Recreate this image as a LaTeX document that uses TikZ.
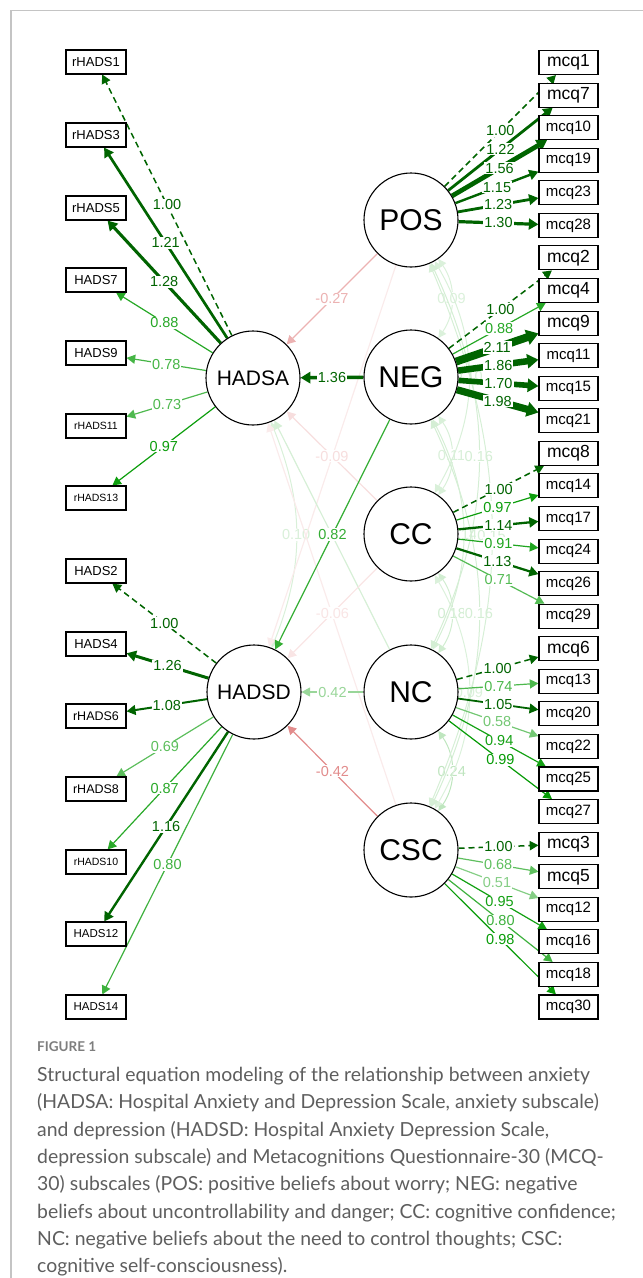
\documentclass[tikz,border=0pt]{standalone}
\usepackage{fontspec}
\setmainfont{Liberation Sans}
\newfontfamily\capfont{Lato}
\usetikzlibrary{arrows.meta,positioning}
\definecolor{semdk}{HTML}{006400}
\definecolor{semgr}{HTML}{009900}
\definecolor{semrd}{HTML}{BF0000}
\definecolor{capgray}{HTML}{5E5E5E}
\definecolor{framegray}{HTML}{C4C4C4}
\pgfdeclarelayer{bg}
\pgfsetlayers{bg,main}

\begin{document}
\begin{tikzpicture}[x=1pt, y=-1pt,
  obs/.style={rectangle, draw=black, line width=1.1pt, fill=white,
              minimum width=60pt, minimum height=24pt, inner sep=0pt,
              font=\fontsize{#1}{#1}\selectfont},
  obs/.default=13,
  item/.style={obs=#1, minimum width=59pt},
  item/.default=17.5,
  lat/.style={circle, draw=black, line width=1.1pt, fill=white,
              minimum size=94pt, inner sep=0pt, font=\fontsize{#1}{#1}\selectfont},
  lat/.default=30,
  ld/.style 2 args={line width=#1, color=#2, -{Triangle[length=8pt 0.5, width=8pt 0.9]}},
  cv/.style={line width=1pt, color=semgr!#1,
             {Triangle[length=8pt, width=8pt]}-{Triangle[length=8pt, width=8pt]}},
  lab/.style={fill=white, inner sep=1pt, font=\fontsize{14.5}{14.5}\selectfont},
  fix/.style={dash pattern=on 6pt off 4pt}
]
  \useasboundingbox (0,0) rectangle (643,1278);
  \draw[framegray, line width=1.2pt] (11,1278) -- (11,10.5) -- (643,10.5);

  % latent variables
  \node[lat=21] (hA)  at (253,378) {HADSA};
  \node[lat=21] (hD)  at (254,692) {HADSD};
  \node[lat] (pos) at (411,220) {POS};
  \node[lat] (neg) at (411,377) {NEG};
  \node[lat] (cc)  at (411,534) {CC};
  \node[lat] (nc)  at (411,692) {NC};
  \node[lat] (csc) at (411,850) {CSC};

  % HADS items
  \node[obs] (rh1) at (96,62) {rHADS1};
  \node[obs] (rh3) at (96,135) {rHADS3};
  \node[obs] (rh5) at (96,208) {rHADS5};
  \node[obs] (h7) at (96,280) {HADS7};
  \node[obs] (h9) at (96,353) {HADS9};
  \node[obs=10.5] (rh11) at (96,426) {rHADS11};
  \node[obs=10.5] (rh13) at (96,498) {rHADS13};
  \node[obs] (h2) at (96,571) {HADS2};
  \node[obs] (h4) at (96,644) {HADS4};
  \node[obs=12.5] (rh6) at (96,716) {rHADS6};
  \node[obs=12.5] (rh8) at (96,789) {rHADS8};
  \node[obs=10.5] (rh10) at (96,862) {rHADS10};
  \node[obs=11.5] (h12) at (96,934) {HADS12};
  \node[obs=11.5] (h14) at (96,1007) {HADS14};

  % MCQ items
  \node[item] (m1) at (568.5,62.5) {mcq1};
  \node[item] (m7) at (568.5,95.1) {mcq7};
  \node[item=15] (m10) at (568.5,127.6) {mcq10};
  \node[item=15] (m19) at (568.5,160.2) {mcq19};
  \node[item=15] (m23) at (568.5,192.8) {mcq23};
  \node[item=15] (m28) at (568.5,225.4) {mcq28};
  \node[item] (m2) at (568.5,257.9) {mcq2};
  \node[item] (m4) at (568.5,290.5) {mcq4};
  \node[item] (m9) at (568.5,323.1) {mcq9};
  \node[item=15] (m11) at (568.5,355.6) {mcq11};
  \node[item=15] (m15) at (568.5,388.2) {mcq15};
  \node[item=15] (m21) at (568.5,420.8) {mcq21};
  \node[item] (m8) at (568.5,453.3) {mcq8};
  \node[item=15] (m14) at (568.5,485.9) {mcq14};
  \node[item=15] (m17) at (568.5,518.5) {mcq17};
  \node[item=15] (m24) at (568.5,551.1) {mcq24};
  \node[item=15] (m26) at (568.5,583.6) {mcq26};
  \node[item=15] (m29) at (568.5,616.2) {mcq29};
  \node[item] (m6) at (568.5,648.8) {mcq6};
  \node[item=15] (m13) at (568.5,681.3) {mcq13};
  \node[item=15] (m20) at (568.5,713.9) {mcq20};
  \node[item=15] (m22) at (568.5,746.5) {mcq22};
  \node[item=15] (m25) at (568.5,779.0) {mcq25};
  \node[item=15] (m27) at (568.5,811.6) {mcq27};
  \node[item] (m3) at (568.5,844.2) {mcq3};
  \node[item] (m5) at (568.5,876.8) {mcq5};
  \node[item=15] (m12) at (568.5,909.3) {mcq12};
  \node[item=15] (m16) at (568.5,941.9) {mcq16};
  \node[item=15] (m18) at (568.5,974.5) {mcq18};
  \node[item=15] (m30) at (568.5,1007.0) {mcq30};

  \begin{pgfonlayer}{bg}
  % covariances
  \draw[cv=14] (pos) to[bend left=35] node[lab] {0.09} (neg);
  \draw[cv=15] (neg) to[bend left=35] node[lab] {0.11} (cc);
  \draw[cv=18] (cc)  to[bend left=35] node[lab] {0.18} (nc);
  \draw[cv=25] (nc)  to[bend left=35] node[lab] {0.24} (csc);
  \draw[cv=15] (pos) to[bend left=30] node[lab] {0.10} (cc);
  \draw[cv=16] (neg) to[bend left=27] node[lab] {0.14} (nc);
  \draw[cv=14] (cc)  to[bend left=30] node[lab] {0.09} (csc);
  \draw[cv=17] (pos) to[bend left=25] node[lab] {0.16} (nc);
  \draw[cv=17] (neg) to[bend left=25] node[lab] {0.16} (csc);
  \draw[cv=16] (pos) to[bend left=23] node[lab] {0.15} (csc);
  \draw[cv=15] (hA)  to[bend left=22] node[lab] {0.10} (hD);

  % regressions
  \draw[ld={1.2}{semrd!8}] (pos) -- (hD);
  \draw[ld={1.2}{semrd!8}] (csc) -- (hA);
  \draw[ld={1.2}{semgr!16}] (nc) -- (hA);
  \draw[ld={1.2}{semrd!30}] (pos) -- node[lab] {-0.27} (hA);
  \draw[ld={3.6}{semdk}] (neg) -- node[lab] {1.36} (hA);
  \draw[ld={1.2}{semrd!13}] (cc) -- node[lab] {-0.09} (hA);
  \draw[ld={1.2}{semrd!10}] (cc) -- node[lab] {-0.06} (hD);
  \draw[ld={1.2}{semgr!80}] (neg) -- node[lab] {0.82} (hD);
  \draw[ld={1.2}{semgr!40}] (nc) -- node[lab] {0.42} (hD);
  \draw[ld={1.2}{semrd!45}] (csc) -- node[lab] {-0.42} (hD);

  % loadings HADSA / HADSD
  \draw[ld={1.5}{semdk}, fix] (hA) -- node[lab] {1.00} (rh1);
  \draw[ld={2.7}{semdk}] (hA) -- node[lab] {1.21} (rh3);
  \draw[ld={3.1}{semdk}] (hA) -- node[lab] {1.28} (rh5);
  \draw[ld={1.2}{semgr!85}] (hA) -- node[lab] {0.88} (h7);
  \draw[ld={1.2}{semgr!73}] (hA) -- node[lab] {0.78} (h9);
  \draw[ld={1.2}{semgr!69}] (hA) -- node[lab] {0.73} (rh11);
  \draw[ld={1.2}{semgr!95}] (hA) -- node[lab] {0.97} (rh13);
  \draw[ld={1.5}{semdk}, fix] (hD) -- node[lab] {1.00} (h2);
  \draw[ld={3.0}{semdk}] (hD) -- node[lab] {1.26} (h4);
  \draw[ld={2.0}{semdk}] (hD) -- node[lab] {1.08} (rh6);
  \draw[ld={1.2}{semgr!64}] (hD) -- node[lab] {0.69} (rh8);
  \draw[ld={1.2}{semgr!84}] (hD) -- node[lab] {0.87} (rh10);
  \draw[ld={2.4}{semdk}] (hD) -- node[lab] {1.16} (h12);
  \draw[ld={1.2}{semgr!76}] (hD) -- node[lab] {0.80} (h14);

  % loadings MCQ-30
  \draw[ld={1.5}{semdk}, fix] (pos) -- node[lab] {1.00} (m1);
  \draw[ld={2.8}{semdk}] (pos) -- node[lab] {1.22} (m7);
  \draw[ld={4.7}{semdk}] (pos) -- node[lab] {1.56} (m10);
  \draw[ld={2.4}{semdk}] (pos) -- node[lab] {1.15} (m19);
  \draw[ld={2.8}{semdk}] (pos) -- node[lab] {1.23} (m23);
  \draw[ld={3.2}{semdk}] (pos) -- node[lab] {1.30} (m28);
  \draw[ld={1.5}{semdk}, fix] (neg) -- node[lab] {1.00} (m2);
  \draw[ld={1.2}{semgr!85}] (neg) -- node[lab] {0.88} (m4);
  \draw[ld={7.9}{semdk}] (neg) -- node[lab] {2.11} (m9);
  \draw[ld={6.5}{semdk}] (neg) -- node[lab] {1.86} (m11);
  \draw[ld={5.6}{semdk}] (neg) -- node[lab] {1.70} (m15);
  \draw[ld={7.2}{semdk}] (neg) -- node[lab] {1.98} (m21);
  \draw[ld={1.5}{semdk}, fix] (cc) -- node[lab] {1.00} (m8);
  \draw[ld={1.2}{semgr!95}] (cc) -- node[lab] {0.97} (m14);
  \draw[ld={2.3}{semdk}] (cc) -- node[lab] {1.14} (m17);
  \draw[ld={1.2}{semgr!88}] (cc) -- node[lab] {0.91} (m24);
  \draw[ld={2.25}{semdk}] (cc) -- node[lab] {1.13} (m26);
  \draw[ld={1.2}{semgr!67}] (cc) -- node[lab] {0.71} (m29);
  \draw[ld={1.5}{semdk}, fix] (nc) -- node[lab] {1.00} (m6);
  \draw[ld={1.2}{semgr!70}] (nc) -- node[lab] {0.74} (m13);
  \draw[ld={1.8}{semdk}] (nc) -- node[lab] {1.05} (m20);
  \draw[ld={1.2}{semgr!55}] (nc) -- node[lab] {0.58} (m22);
  \draw[ld={1.2}{semgr!92}] (nc) -- node[lab] {0.94} (m25);
  \draw[ld={1.2}{semgr!98}] (nc) -- node[lab] {0.99} (m27);
  \draw[ld={1.5}{semdk}, fix] (csc) -- node[lab] {1.00} (m3);
  \draw[ld={1.2}{semgr!63}] (csc) -- node[lab] {0.68} (m5);
  \draw[ld={1.2}{semgr!48}] (csc) -- node[lab] {0.51} (m12);
  \draw[ld={1.2}{semgr!93}] (csc) -- node[lab] {0.95} (m16);
  \draw[ld={1.2}{semgr!76}] (csc) -- node[lab] {0.80} (m18);
  \draw[ld={1.2}{semgr!97}] (csc) -- node[lab] {0.98} (m30);
  \end{pgfonlayer}

  % caption
  \node[anchor=west, inner sep=0pt, text=capgray!80, font=\capfont\bfseries\fontsize{13.5}{13.5}\selectfont] (fig)
    at (37,1047) {FIGURE 1};
  \node[anchor=north west, inner sep=0pt, align=left, text=capgray,
        font=\capfont\fontsize{19.4}{27.3}\selectfont] (cap) at (37,1067)
    {Structural equation modeling of the relationship between anxiety\\
     (HADSA: Hospital Anxiety and Depression Scale, anxiety subscale)\\
     and depression (HADSD: Hospital Anxiety Depression Scale,\\
     depression subscale) and Metacognitions Questionnaire-30 (MCQ-\\
     30) subscales (POS: positive beliefs about worry; NEG: negative\\
     beliefs about uncontrollability and danger; CC: cognitive confidence;\\
     NC: negative beliefs about the need to control thoughts; CSC:\\
     cognitive self-consciousness).};
\end{tikzpicture}
\end{document}
